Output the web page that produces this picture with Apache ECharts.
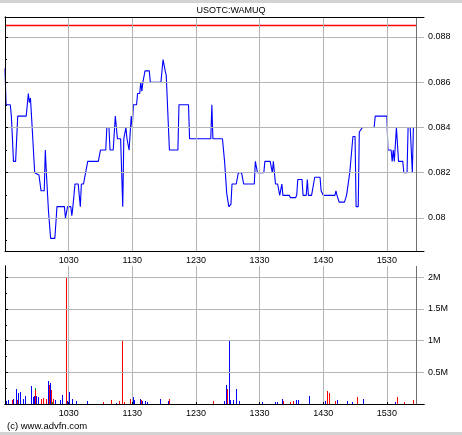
<!DOCTYPE html>
<html>
<head>
<meta charset="utf-8">
<script src="https://cdn.jsdelivr.net/npm/echarts@6/dist/echarts.min.js"></script>
<style>
html, body { margin: 0; padding: 0; background: #fff; }
#chart { width: 462px; height: 435px; }
</style>
</head>
<body>
<div id="chart"></div>
<script>
// intraday price (time, price)
const priceTimes = ['09:30','09:31','09:35','09:36','09:38','09:40','09:42','09:50','09:52','09:53','09:54','09:55','09:58','10:02','10:04','10:07','10:08','10:09','10:11','10:13','10:17','10:19','10:26','10:27','10:29','10:32','10:33','10:34','10:36','10:39','10:41','10:42','10:44','10:46','10:48','10:58','11:00','11:05','11:06','11:08','11:09','11:12','11:14','11:16','11:19','11:21','11:22','11:24','11:25','11:26','11:27','11:29','11:30','11:31','11:34','11:35','11:37','11:38','11:39','11:40','11:42','11:46','11:47','11:57','11:59','12:01','12:02','12:05','12:13','12:14','12:23','12:24','12:44','12:45','12:46','12:55','12:57','12:59','13:01','13:03','13:04','13:08','13:10','13:13','13:15','13:25','13:26','13:28','13:34','13:35','13:40','13:42','13:43','13:45','13:47','13:49','13:51','13:52','13:58','13:59','14:04','14:05','14:06','14:10','14:11','14:14','14:15','14:16','14:19','14:22','14:27','14:28','14:30','14:41','14:42','14:43','14:45','14:50','14:52','14:53','14:55','14:58','15:00','15:01','15:03','15:04','15:07','15:18','15:19','15:30','15:31','15:34','15:35','15:36','15:37','15:39','15:41','15:45','15:46','15:49','15:50','15:52','15:54','15:55','15:58'];
const priceValues = [0.0866,0.0850,0.0850,0.0845,0.0825,0.0825,0.0845,0.0845,0.0855,0.0851,0.0853,0.0845,0.0820,0.0819,0.0812,0.0812,0.0830,0.0820,0.0803,0.0791,0.0791,0.0805,0.0805,0.0800,0.0805,0.0805,0.0801,0.0805,0.0815,0.0815,0.0805,0.0815,0.0815,0.0820,0.0825,0.0825,0.0830,0.0830,0.0840,0.0840,0.0830,0.0830,0.0845,0.0835,0.0835,0.0805,0.0835,0.0840,0.0835,0.0835,0.0830,0.0845,0.0840,0.0850,0.0850,0.0855,0.0855,0.0860,0.0856,0.0860,0.0865,0.0865,0.0860,0.0860,0.0870,0.0865,0.0863,0.0830,0.0830,0.0850,0.0850,0.0835,0.0835,0.0850,0.0835,0.0835,0.0825,0.0811,0.0805,0.0806,0.0815,0.0815,0.0820,0.0820,0.0815,0.0815,0.0825,0.0820,0.0820,0.0825,0.0825,0.0820,0.0825,0.0815,0.0815,0.0810,0.0815,0.0810,0.0810,0.0809,0.0809,0.0810,0.0817,0.0817,0.0810,0.0810,0.0817,0.0810,0.0810,0.0818,0.0818,0.0812,0.0810,0.0810,0.0812,0.0810,0.0807,0.0807,0.0810,0.0810,0.0820,0.0836,0.0836,0.0805,0.0805,0.0838,0.0840,0.0840,0.0845,0.0845,0.0830,0.0830,0.0825,0.0830,0.0825,0.0840,0.0825,0.0825,0.0820,0.0820,0.0840,0.0840,0.0820,0.0840,0.0840];
const prevClose = 0.0885;

// volume, split by trade direction
const upVolTimes = ['09:31','09:33','09:38','09:41','09:43','09:45','09:47','09:49','09:55','09:57','09:58','10:00','10:02','10:11','10:13','10:18','10:22','10:24','10:29','10:31','10:34','10:37','10:48','11:15','11:30','11:31','11:32','11:38','11:40','11:42','11:44','11:57','12:04','12:57','12:59','13:02','13:03','13:05','13:08','13:11','13:33','13:45','13:47','13:52','14:05','14:07','14:17','14:32','14:43','14:53','14:58','15:08','15:38'];
const upVolValues = [52000,63000,84000,232000,169000,190000,84000,126000,284000,105000,126000,126000,105000,368000,327000,63000,63000,137000,52000,190000,74000,52000,42000,21000,42000,105000,63000,74000,42000,42000,32000,84000,42000,42000,295000,1000000,63000,63000,232000,42000,32000,32000,32000,84000,63000,63000,126000,42000,63000,42000,32000,74000,32000];
const downVolTimes = ['09:37','09:42','09:59','10:04','10:06','10:09','10:12','10:14','10:16','10:28','11:03','11:10','11:18','11:21','11:23','11:28','11:39','12:05','12:47','13:00','13:53','13:59','14:02','14:34','14:36','14:42','15:02','15:40','15:47','15:55'];
const downVolValues = [63000,63000,221000,84000,95000,84000,295000,221000,74000,2000000,32000,63000,42000,1000000,32000,84000,63000,74000,42000,232000,42000,32000,42000,200000,169000,42000,116000,105000,32000,63000];
const flatVolTimes = ['09:59','10:15'];
const flatVolValues = [245000,32000];

// axis ticks
const hourTicks = ['10:30','11:30','12:30','13:30','14:30','15:30'];
const priceLabels = [0.080, 0.082, 0.084, 0.086, 0.088];
const priceMinor = [0.079, 0.081, 0.083, 0.085, 0.087];
const volumeLabels = [500000, 1000000, 1500000, 2000000];
const volumeMinor = [250000, 750000, 1250000, 1750000];

const OPEN = 9 * 60 + 30;
function offsetOf(t) {
  const p = t.split(':').map(Number);
  return p[0] * 60 + p[1] - OPEN;
}
function hhmm(v) {
  const m = OPEN + v;
  const mm = m % 60;
  return Math.floor(m / 60) + (mm < 10 ? '0' : '') + mm;
}
function volText(v) {
  return (v / 1000000) + 'M';
}
function pairs(times, vals) {
  return times.map((t, i) => [offsetOf(t), vals[i]]);
}

// 1px volume bars snapped to whole pixels, placed by the axes
function renderBar(params, api) {
  const top = api.coord([api.value(0), api.value(1)]);
  const base = api.coord([api.value(0), 0]);
  const y0 = Math.round(top[1]);
  return {
    type: 'rect',
    shape: { x: Math.floor(top[0]), y: y0, width: 1, height: Math.round(base[1]) - y0 },
    style: { fill: api.visual('color') }
  };
}

const hourOffsets = hourTicks.map(offsetOf);
const lastOffset = offsetOf(priceTimes[priceTimes.length - 1]);
const X_MAX = offsetOf('16:05');
const allPriceTicks = priceLabels.concat(priceMinor).sort();
const allVolTicks = volumeLabels.concat(volumeMinor).sort((a, b) => a - b);

const font = { fontFamily: 'Liberation Sans', fontSize: 9, color: '#000' };
const gridColor = '#b2b6b6';
const endLine = {
  silent: true, symbol: 'none', label: { show: false },
  lineStyle: { color: '#707070', width: 1, type: 'solid' },
  data: [{ xAxis: lastOffset }]
};

let chart = echarts.init(document.getElementById('chart'));

chart.setOption({
  animation: false,
  backgroundColor: '#fff',
  title: {
    text: 'USOTC:WAMUQ',
    left: 'center',
    top: 6,
    padding: 0,
    textStyle: { fontFamily: 'Liberation Sans', fontSize: 9, fontWeight: 'normal', color: '#000' }
  },
  graphic: [
    { type: 'rect', left: 0, top: 0, shape: { width: 462, height: 3 }, style: { fill: '#d3d3d3' } },
    { type: 'rect', left: 0, top: 432, shape: { width: 462, height: 3 }, style: { fill: '#d3d3d3' } },
    { type: 'text', left: 7, top: 421, style: { text: '(c) www.advfn.com', font: '9.5px "Liberation Sans"', fill: '#000' } }
  ],
  grid: [
    { left: 5, top: 17, width: 419, height: 234, outerBoundsMode: 'none' },
    { left: 5, top: 266, width: 419, height: 138, outerBoundsMode: 'none' }
  ],
  xAxis: [
    {
      type: 'value', gridIndex: 0, min: 0, max: X_MAX, z: 5,
      axisLine: { lineStyle: { color: '#000', width: 1 } },
      axisTick: { show: false, customValues: hourOffsets },
      axisLabel: Object.assign({ customValues: hourOffsets, formatter: hhmm, margin: 5 }, font),
      splitLine: { show: true, lineStyle: { color: gridColor, width: 1 } }
    },
    {
      type: 'value', gridIndex: 0, min: 0, max: X_MAX, position: 'top', z: 5,
      axisLine: { lineStyle: { color: '#000', width: 1 } },
      axisTick: { show: false }, axisLabel: { show: false }, splitLine: { show: false }
    },
    {
      type: 'value', gridIndex: 1, min: 0, max: X_MAX, z: 5,
      axisLine: { lineStyle: { color: '#000', width: 1 } },
      axisTick: { show: true, inside: true, length: 2, customValues: hourOffsets, lineStyle: { color: '#000' } },
      axisLabel: Object.assign({ customValues: hourOffsets, formatter: hhmm, margin: 5 }, font),
      splitLine: { show: true, lineStyle: { color: gridColor, width: 1 } }
    },
    {
      type: 'value', gridIndex: 1, min: 0, max: X_MAX, position: 'top', z: 5,
      axisLine: { lineStyle: { color: '#000', width: 1 } },
      axisTick: { show: false }, axisLabel: { show: false }, splitLine: { show: false }
    }
  ],
  yAxis: [
    {
      type: 'value', gridIndex: 0, position: 'right', min: 0.07854, max: 0.08888, z: 5,
      axisLine: { show: true, lineStyle: { color: '#000', width: 1 } },
      axisTick: { show: true, length: 3, customValues: priceLabels, lineStyle: { color: '#000' } },
      axisLabel: Object.assign({ customValues: priceLabels, margin: 4 }, font),
      splitLine: { show: true, lineStyle: { color: gridColor, width: 1 } }
    },
    {
      type: 'value', gridIndex: 0, position: 'right', min: 0.07854, max: 0.08888,
      axisLine: { show: false },
      axisTick: { show: true, length: 2, customValues: priceMinor, lineStyle: { color: '#000' } },
      axisLabel: { show: false }, splitLine: { show: false }
    },
    {
      type: 'value', gridIndex: 0, position: 'left', min: 0.07854, max: 0.08888, z: 5,
      axisLine: { show: true, lineStyle: { color: '#000', width: 1 } },
      axisTick: { show: true, inside: true, length: 2, customValues: allPriceTicks, lineStyle: { color: '#000' } },
      axisLabel: { show: false }, splitLine: { show: false }
    },
    {
      type: 'value', gridIndex: 1, position: 'right', min: 0, max: 2178000, z: 5,
      axisLine: { show: true, lineStyle: { color: '#000', width: 1 } },
      axisTick: { show: true, length: 3, customValues: volumeLabels, lineStyle: { color: '#000' } },
      axisLabel: Object.assign({ customValues: volumeLabels, formatter: volText, margin: 4 }, font),
      splitLine: { show: true, lineStyle: { color: gridColor, width: 1 } }
    },
    {
      type: 'value', gridIndex: 1, position: 'right', min: 0, max: 2178000,
      axisLine: { show: false },
      axisTick: { show: true, length: 2, customValues: volumeMinor, lineStyle: { color: '#000' } },
      axisLabel: { show: false }, splitLine: { show: false }
    },
    {
      type: 'value', gridIndex: 1, position: 'left', min: 0, max: 2178000, z: 5,
      axisLine: { show: true, lineStyle: { color: '#000', width: 1 } },
      axisTick: { show: true, inside: true, length: 2, customValues: allVolTicks, lineStyle: { color: '#000' } },
      axisLabel: { show: false }, splitLine: { show: false }
    }
  ],
  series: [
    {
      name: 'prev close', type: 'line', xAxisIndex: 0, yAxisIndex: 0,
      data: [[0, prevClose], [lastOffset, prevClose]],
      symbol: 'none', z: 2,
      itemStyle: { color: '#ff0000' },
      lineStyle: { color: '#ff0000', width: 1.5 }
    },
    {
      name: 'price', type: 'line', xAxisIndex: 0, yAxisIndex: 0,
      data: pairs(priceTimes, priceValues),
      symbol: 'none', z: 3,
      itemStyle: { color: '#0000ff' },
      lineStyle: { color: '#0000ff', width: 1.1 },
      markLine: endLine
    },
    {
      name: 'flat', type: 'custom', xAxisIndex: 2, yAxisIndex: 3,
      data: pairs(flatVolTimes, flatVolValues),
      renderItem: renderBar, itemStyle: { color: '#00a000' },
      markLine: endLine
    },
    {
      name: 'down', type: 'custom', xAxisIndex: 2, yAxisIndex: 3,
      data: pairs(downVolTimes, downVolValues),
      renderItem: renderBar, itemStyle: { color: '#ff0000' }
    },
    {
      name: 'up', type: 'custom', xAxisIndex: 2, yAxisIndex: 3,
      data: pairs(upVolTimes, upVolValues),
      renderItem: renderBar, itemStyle: { color: '#0000ff' }
    }
  ]
});
</script>
</body>
</html>
